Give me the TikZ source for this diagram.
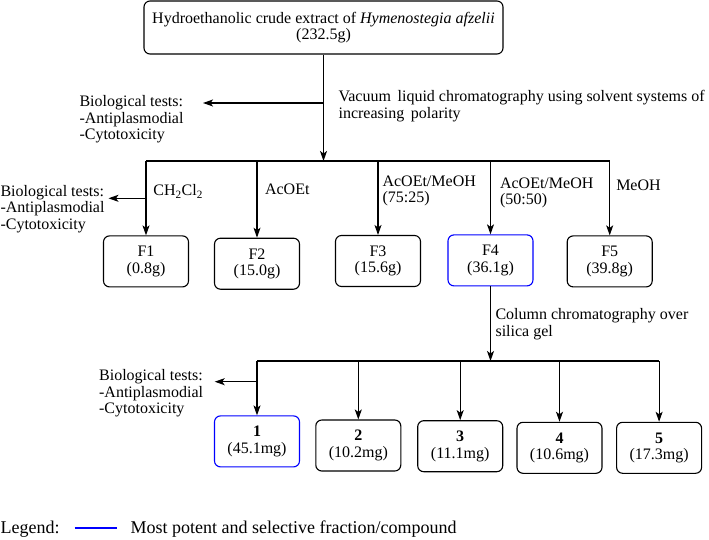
\documentclass[tikz,border=0pt]{standalone}
\usepackage{fontspec}
\setmainfont{Liberation Serif}
\usetikzlibrary{arrows.meta}

\begin{document}
\begin{tikzpicture}[x=1pt,y=-1pt,line width=1.1pt,>={Stealth[length=10pt,width=7pt,inset=2.5pt]},
        every node/.style={font=\fontsize{16}{16.5}\selectfont,inner sep=0pt},
        box/.style={draw,rounded corners=6pt,align=center,minimum width=85pt,minimum height=51pt},%fraction boxes
        best/.style={box,draw=blue},%most potent one
        note/.style={align=left,anchor=north west}%free text, first line on top
        ]
\useasboundingbox (0,0) rectangle (709,540);
% crude extract
\node[box,minimum width=359pt,minimum height=53pt] (extract) at (323.5,27.5)
     {Hydroethanolic crude extract of \textit{Hymenostegia afzelii}\\(232.5g)};
\coordinate (bus1) at (0,161);
\coordinate (tip1) at (203,103);
\node[note] (bio1) at (79,95) {Biological tests:\\-Antiplasmodial\\-Cytotoxicity};
\node[note] (vlc) at (338,90) {Vacuum\, liquid chromatography using solvent systems of\\increasing\, polarity};
\draw[->] (extract.south) -- (extract.south |- bus1);
\draw[->] (extract.south |- tip1) -- (tip1);
% fractions
\node[box] (F1) at (146,261.4) {F1\\(0.8g)};
\node[box] (F2) at (257,263.7) {F2\\(15.0g)};
\node[box] (F3) at (378,261) {F3\\(15.6g)};
\node[best] (F4) at (490.5,260.4) {F4\\(36.1g)};
\node[box] (F5) at (609.7,261.4) {F5\\(39.8g)};
\draw (F1.north |- bus1) -- (F5.north |- bus1);
\foreach \f in {F1,F2,F3,F4,F5}
  \draw[->] (\f.north |- bus1) -- (\f.north);
\coordinate (tip2) at (108.5,198.3);
\draw[->] (F1.north |- tip2) -- (tip2);
\node[note] (bio2) at (0,184.7) {Biological tests:\\-Antiplasmodial\\-Cytotoxicity};
\node[anchor=west] (s1) at (152.8,191.7) {CH\textsubscript{2}Cl\textsubscript{2}};
\node[anchor=west] (s2) at (264.5,189) {AcOEt};
\node[note] (s3) at (382,175) {AcOEt/MeOH\\(75:25)};
\node[note] (s4) at (499.5,177) {AcOEt/MeOH\\(50:50)};
\node[anchor=west] (s5) at (615.7,185) {MeOH};
% compounds from F4
\coordinate (bus2) at (0,361);
\node[note] (cc) at (495,308) {Column chromatography over\\silica gel};
\draw[->] (F4.south) -- (F4.south |- bus2);
\node[best] (C1) at (257,441.4) {\textbf{1}\\(45.1mg)};
\node[box] (C2) at (358.3,445.5) {\textbf{2}\\(10.2mg)};
\node[box] (C3) at (460.2,446.2) {\textbf{3}\\(11.1mg)};
\node[box] (C4) at (559.5,447.8) {\textbf{4}\\(10.6mg)};
\node[box] (C5) at (659.1,447.8) {\textbf{5}\\(17.3mg)};
\draw (C1.north |- bus2) -- (C5.north |- bus2);
\foreach \c in {C1,C2,C3,C4,C5}
  \draw[->] (\c.north |- bus2) -- (\c.north);
\coordinate (tip3) at (214.7,381.7);
\draw[->] (C1.north |- tip3) -- (tip3);
\node[note] (bio3) at (98.6,369) {Biological tests:\\-Antiplasmodial\\-Cytotoxicity};
% legend
\node[anchor=west,font=\fontsize{18}{18}\selectfont] (leg) at (0,529) {Legend:};
\coordinate (l1) at (74.6,528);
\coordinate (l2) at (116.6,528);
\draw[blue,line width=1.5pt] (l1) -- (l2);
\node[anchor=west,font=\fontsize{18}{18}\selectfont] (legtext) at (130,529) {Most potent and selective fraction/compound};
\end{tikzpicture}
\end{document}
